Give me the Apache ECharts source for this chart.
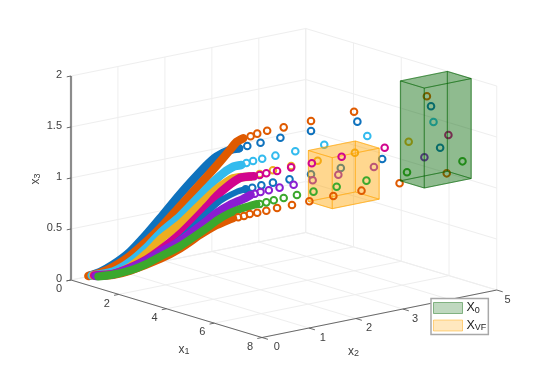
<!DOCTYPE html>
<html>
<head>
<meta charset="utf-8">
<style>html,body{margin:0;padding:0;background:#fff}#c{width:548px;height:380px}</style>
<script src="https://cdn.jsdelivr.net/npm/echarts@6/dist/echarts.min.js"></script>
</head>
<body>
<div id="c"></div>
<script>
// ---------- data: [x1, x2, x3]; Band = dense part of a trajectory, Rings = separated samples ----------
const x1Ticks = [0, 2, 4, 6, 8];
const x2Ticks = [0, 1, 2, 3, 4, 5];
const x3Ticks = [0, 0.5, 1, 1.5, 2];
const x3TickLabels = ['0', '0.5', '1', '1.5', '2'];
const x0Limits = [[5.95, 6.95], [3.99, 4.99], [1.02, 2.0]];
const xvfLimits = [[5.95, 6.95], [2.03, 3.03], [1.0, 1.5]];

const blueTopBand = [[.345,.23,.047],[.525,.35,.083],[.765,.51,.158],[1.065,.71,.283],[1.38,.92,.467],[1.62,1.08,.621],[1.98,1.32,.86],[2.445,1.63,1.138],[2.64,1.76,1.233],[2.88,1.92,1.299],[3.045,2.03,1.317]];
const blueTopRings = [[3.045,2.03,1.317],[3.195,2.13,1.341],[3.435,2.29,1.375],[3.795,2.53,1.427],[4.35,2.9,1.497],[5.19,3.46,1.596],[6.525,4.35,1.758]];
const orangeTopBand = [[.315,.21,.042],[.525,.35,.073],[.765,.51,.134],[1.065,.71,.244],[1.38,.92,.394],[1.62,1.08,.523],[1.98,1.32,.742],[2.46,1.64,1.033],[2.7,1.8,1.182],[2.88,1.92,1.299],[3.0,2.0,1.378],[3.12,2.08,1.415]];
const orangeTopRings = [[3.255,2.17,1.436],[3.375,2.25,1.463],[3.555,2.37,1.493],[3.855,2.57,1.529],[4.35,2.9,1.595],[5.13,3.42,1.693],[6.45,4.3,1.855]];
const cyanBand = [[.375,.25,.047],[.765,.51,.09],[1.065,.71,.185],[1.38,.92,.335],[1.62,1.08,.474],[1.98,1.32,.644],[2.4,1.6,.883],[2.58,1.72,.985],[2.76,1.84,1.072],[2.94,1.96,1.135],[3.09,2.06,1.153]];
const cyanRings = [[3.18,2.12,1.174],[3.3,2.2,1.194],[3.465,2.31,1.218],[3.705,2.47,1.25],[4.065,2.71,1.296],[4.59,3.06,1.365],[5.37,3.58,1.457],[6.57,4.38,1.604]];
const goldBand = [[.405,.27,.048],[.765,.51,.065],[1.065,.71,.136],[1.38,.92,.276],[1.65,1.1,.426],[1.98,1.32,.566],[2.46,1.64,.822],[2.7,1.8,.937],[2.94,1.96,1.022],[3.24,2.16,1.04]];
const goldRings = [[3.24,2.16,1.04],[3.42,2.28,1.068],[3.66,2.44,1.106],[3.99,2.66,1.151],[4.47,2.98,1.207],[5.145,3.43,1.291],[6.12,4.08,1.407]];
const magentaBand = [[.42,.28,.048],[.765,.51,.065],[1.065,.71,.127],[1.38,.92,.217],[1.62,1.08,.308],[1.98,1.32,.468],[2.46,1.64,.736],[2.64,1.76,.846],[2.82,1.88,.935],[3.06,2.04,1.026],[3.315,2.21,1.045]];
const magentaRings = [[3.42,2.28,1.058],[3.54,2.36,1.076],[3.735,2.49,1.1],[3.99,2.66,1.138],[4.365,2.91,1.181],[4.905,3.27,1.25],[5.685,3.79,1.345],[6.84,4.56,1.479]];
const blueLowBand = [[.435,.29,.043],[.765,.51,.06],[1.065,.71,.117],[1.38,.92,.198],[1.62,1.08,.278],[1.98,1.32,.419],[2.46,1.64,.678],[2.7,1.8,.797],[3.0,2.0,.888],[3.165,2.11,.916]];
const blueLowRings = [[3.165,2.11,.916],[3.285,2.19,.932],[3.45,2.3,.957],[3.66,2.44,.985],[3.96,2.64,1.02],[4.35,2.9,1.073],[4.89,3.26,1.139],[5.64,3.76,1.234],[6.69,4.46,1.353]];
const purpleBand = [[.45,.3,.043],[.765,.51,.065],[1.065,.71,.122],[1.38,.92,.208],[1.62,1.08,.288],[1.98,1.32,.399],[2.46,1.64,.599],[2.64,1.76,.679],[2.88,1.92,.76],[3.12,2.08,.82],[3.255,2.17,.861]];
const purpleRings = [[3.33,2.22,.874],[3.435,2.29,.892],[3.585,2.39,.91],[3.78,2.52,.937],[4.035,2.69,.968],[4.38,2.92,1.014],[4.845,3.23,1.073],[5.49,3.66,1.154],[6.405,4.27,1.257]];
const greenBand = [[.495,.33,.038],[.765,.51,.06],[1.065,.71,.102],[1.38,.92,.173],[1.62,1.08,.244],[1.98,1.32,.35],[2.46,1.64,.53],[2.64,1.76,.605],[2.88,1.92,.681],[3.12,2.08,.732],[3.36,2.24,.773]];
const greenRings = [[3.42,2.28,.774],[3.54,2.36,.791],[3.675,2.45,.812],[3.855,2.57,.836],[4.095,2.73,.868],[4.395,2.93,.903],[4.815,3.21,.955],[5.355,3.57,1.019],[6.09,4.06,1.107],[7.095,4.73,1.223]];
const orangeLowBand = [[.525,.35,.044],[.765,.51,.055],[1.065,.71,.097],[1.62,1.08,.22],[1.98,1.32,.325],[2.34,1.56,.461],[2.61,1.74,.551],[2.79,1.86,.597],[2.94,1.96,.63]];
const orangeLowRings = [[3.03,2.02,.64],[3.135,2.09,.654],[3.24,2.16,.674],[3.375,2.25,.688],[3.54,2.36,.709],[3.735,2.49,.737],[4.005,2.67,.769],[4.32,2.88,.808],[4.755,3.17,.863],[5.265,3.51,.92],[5.955,3.97,.998],[6.81,4.54,1.103]];

// ---------- view: orthographic projection of the MATLAB-style axes onto the page ----------
const view = { ox: 71, oy: 280, x1: [23.875, 7.19], x2: [46.95, -9.5], x3: [0, -102] };
function project(p) {
  return [
    view.ox + p[0] * view.x1[0] + p[1] * view.x2[0] + p[2] * view.x3[0],
    view.oy + p[0] * view.x1[1] + p[1] * view.x2[1] + p[2] * view.x3[1]
  ];
}
const X1MAX = 8, X2MAX = 5, X3MAX = 2;

const gridSegs = [];
x1Ticks.forEach(v => { gridSegs.push([v,0,0,v,X2MAX,0]); gridSegs.push([v,X2MAX,0,v,X2MAX,X3MAX]); });
x2Ticks.forEach(v => { gridSegs.push([0,v,0,X1MAX,v,0]); gridSegs.push([0,v,0,0,v,X3MAX]); });
x3Ticks.forEach(v => { gridSegs.push([0,0,v,0,X2MAX,v]); gridSegs.push([0,X2MAX,v,X1MAX,X2MAX,v]); });

const axisSegs = [[0,0,0,X1MAX,0,0],[X1MAX,0,0,X1MAX,X2MAX,0]];
x1Ticks.forEach(v => axisSegs.push([v,0,0,v,-0.1,0]));
x2Ticks.forEach(v => axisSegs.push([X1MAX,v,0,X1MAX+0.25,v,0]));
const zAxisSegs = [[0,0,0,0,0,X3MAX]];
const zTickSegs = x3Ticks.map(v => [0,0,v,0,-0.09,v]);

function segSeries(name, segs, stroke, width, z) {
  return {
    type: 'custom', name, coordinateSystem: 'cartesian2d', silent: true, z, clip: false,
    data: segs,
    renderItem: (params, api) => {
      const a = api.coord(project([api.value(0), api.value(1), api.value(2)]));
      const b = api.coord(project([api.value(3), api.value(4), api.value(5)]));
      return { type: 'line', shape: { x1: a[0], y1: a[1], x2: b[0], y2: b[1] }, style: { stroke, lineWidth: width } };
    }
  };
}

function boxFaces(l) {
  const [[a0,a1],[b0,b1],[c0,c1]] = l;
  return [
    [a0,b0,c0, a1,b0,c0, a1,b1,c0, a0,b1,c0],
    [a0,b0,c1, a1,b0,c1, a1,b1,c1, a0,b1,c1],
    [a0,b0,c0, a1,b0,c0, a1,b0,c1, a0,b0,c1],
    [a0,b1,c0, a1,b1,c0, a1,b1,c1, a0,b1,c1],
    [a0,b0,c0, a0,b1,c0, a0,b1,c1, a0,b0,c1],
    [a1,b0,c0, a1,b1,c0, a1,b1,c1, a1,b0,c1]
  ];
}
function boxSeries(name, limits, fill, edge, z) {
  return {
    type: 'custom', name, coordinateSystem: 'cartesian2d', silent: true, z, clip: false,
    itemStyle: { color: fill, borderColor: edge, borderWidth: 1 },
    data: boxFaces(limits),
    renderItem: (params, api) => {
      const pts = [0,3,6,9].map(i => api.coord(project([api.value(i), api.value(i+1), api.value(i+2)])));
      return { type: 'polygon', shape: { points: pts }, style: { fill, stroke: edge, lineWidth: 1 } };
    }
  };
}
function trajectory(band, rings, color, width, z, ringZ) {
  return [
    { type: 'line', data: band.map(project), smooth: 0.25, symbol: 'none', silent: true, z, clip: false,
      lineStyle: { color, width, cap: 'round', join: 'round' } },
    { type: 'scatter', data: rings.map(project), symbol: 'circle', symbolSize: 6.6, silent: true, z: ringZ || z, clip: false,
      itemStyle: { color: 'rgba(255,255,255,0)', borderColor: color, borderWidth: 2, opacity: 1 } }
  ];
}

const FONT = '"Liberation Sans", Arial, sans-serif';
const TXT = '#404040';
const labels = [];
x1Ticks.forEach(v => labels.push({ p: [v,0,0], dx: -12, dy: 9.3, t: String(v) }));
x2Ticks.forEach(v => labels.push({ p: [X1MAX,v,0], dx: 14.7 - 0.8 * v, dy: 9.6, t: String(v) }));
x3Ticks.forEach((v, i) => labels.push({ p: [0,0,v], dx: -9, dy: -1.5, t: x3TickLabels[i], align: 'right' }));
labels.push({ p: [4,0,0], dx: 17.5, dy: 41, t: '{m|x}{s|1}', rich: true });
labels.push({ p: [X1MAX,2,0], dx: -2.5, dy: 33.5, t: '{m|x}{s|2}', rich: true });
labels.push({ p: [0,0,1], dx: -35, dy: 1, t: '{m|x}{s|3}', rich: true, rot: Math.PI / 2 });

const rich = {
  m: { fontFamily: FONT, fontSize: 12, fill: TXT, color: TXT, verticalAlign: 'bottom' },
  s: { fontFamily: FONT, fontSize: 9, fill: TXT, color: TXT, verticalAlign: 'top', padding: [3,0,0,0] }
};
const textSeries = {
  type: 'custom', coordinateSystem: 'cartesian2d', silent: true, z: 3, clip: false,
  data: labels.map((l, i) => [i]),
  renderItem: (params, api) => {
    const l = labels[api.value(0)];
    const c = api.coord(project(l.p));
    return {
      type: 'text', x: c[0] + l.dx, y: c[1] + l.dy, rotation: l.rot || 0,
      style: { text: l.t, fontFamily: FONT, fontSize: 11, fill: TXT,
        align: l.align || 'center', verticalAlign: 'middle', rich: l.rich ? rich : undefined }
    };
  }
};

const series = [
  segSeries('grid', gridSegs, '#eeeeee', 1, 1),
  segSeries('axes', axisSegs, '#5a5a5a', 0.9, 2),
  segSeries('x3axis', zAxisSegs, '#8c8c8c', 2.2, 2),
  segSeries('x3ticks', zTickSegs, '#5a5a5a', 0.9, 2),
  textSeries,
  ...trajectory(orangeLowBand, orangeLowRings, '#DF5A00', 8, 4, 16),
  ...trajectory(blueTopBand, blueTopRings, '#0F72BD', 8.5, 5),
  ...trajectory(orangeTopBand, orangeTopRings, '#DF5A00', 8.5, 6),
  ...trajectory(cyanBand, cyanRings, '#33BBEE', 8.5, 7),
  ...trajectory(goldBand, goldRings, '#EDAE20', 8.5, 8),
  ...trajectory(magentaBand, magentaRings, '#D1048E', 8.5, 9, 16),
  ...trajectory(blueLowBand, blueLowRings, '#0F72BD', 6, 10),
  ...trajectory(purpleBand, purpleRings, '#8A1DD1', 8.5, 11),
  ...trajectory(greenBand, greenRings, '#3BA82D', 8, 12, 16),
  boxSeries('XVF', xvfLimits, 'rgba(255,165,0,0.25)', 'rgba(255,165,0,0.45)', 15),
  boxSeries('X0', x0Limits, 'rgba(0,100,0,0.25)', 'rgba(0,100,0,0.42)', 20)
];

const chart = echarts.init(document.getElementById('c'), null, { renderer: 'canvas' });
chart.setOption({
  animation: false,
  backgroundColor: '#fff',
  grid: { left: 0, right: 0, top: 0, bottom: 0 },
  xAxis: { type: 'value', min: 0, max: 548, show: false },
  yAxis: { type: 'value', min: 0, max: 380, inverse: true, show: false },
  legend: {
    data: [{ name: 'X0', icon: 'rect' }, { name: 'XVF', icon: 'rect' }],
    orient: 'vertical', left: 431, top: 298.5, z: 50,
    padding: [3, 2, 2, 2], itemGap: 4, itemWidth: 29, itemHeight: 11,
    backgroundColor: '#fff', borderColor: '#a8a8a8', borderWidth: 1.5, borderRadius: 0,
    selectedMode: false, align: 'left',
    itemStyle: { borderWidth: 1 },
    formatter: n => n === 'X0' ? '{m|X}{s|0}' : '{m|X}{s|VF}',
    textStyle: { padding: [0,0,0,-1], rich: {
      m: { fontFamily: FONT, fontSize: 12.5, color: '#222' },
      s: { fontFamily: FONT, fontSize: 9, color: '#222', padding: [5,0,0,0] }
    } }
  },
  series
});
</script>
</body>
</html>
